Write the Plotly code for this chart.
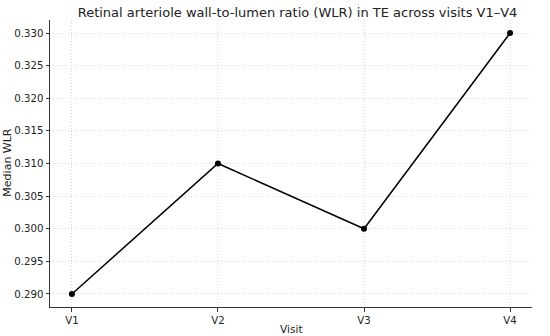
import plotly.graph_objects as go

visits = ["V1", "V2", "V3", "V4"]
median_wlr = [0.290, 0.310, 0.300, 0.330]
y_ticks = [0.290, 0.295, 0.300, 0.305, 0.310, 0.315, 0.320, 0.325, 0.330]

x_idx = list(range(len(visits)))

fig = go.Figure()
fig.add_trace(go.Scatter(
    x=x_idx, y=median_wlr, mode="lines+markers",
    line=dict(color="black", width=1.5),
    marker=dict(color="black", size=6),
    showlegend=False,
))

fig.update_layout(
    width=550, height=336,
    margin=dict(l=50, r=18, t=20, b=29),
    paper_bgcolor="white", plot_bgcolor="white",
    font=dict(family="DejaVu Sans", size=10.2, color="#222"),
    title=dict(text="Retinal arteriole wall-to-lumen ratio (WLR) in TE across visits V1–V4",
               x=0.541, xanchor="center", y=0.964, yanchor="middle",
               font=dict(size=13.0, color="#222")),
)
grid_style = dict(showgrid=True, gridcolor="#d9d9d9", griddash="1px,2px", gridwidth=1)
fig.update_xaxes(
    range=[-0.15, 3.15], tickmode="array", tickvals=x_idx, ticktext=visits,
    showline=True, linecolor="#333", linewidth=1,
    ticks="outside", ticklen=3.5, tickcolor="#333",
    zeroline=False, automargin=False, **grid_style,
)
fig.update_yaxes(
    range=[0.288, 0.332], tickmode="array", tickvals=y_ticks,
    ticktext=[f"{v:.3f}" for v in y_ticks],
    showline=True, linecolor="#333", linewidth=1,
    ticks="outside", ticklen=3.5, tickcolor="#333",
    zeroline=False, automargin=False, **grid_style,
)
fig.add_annotation(text="Visit", xref="paper", yref="paper", x=0.5, y=0,
                   yshift=-21.5, yanchor="middle", showarrow=False,
                   font=dict(size=10.6, color="#222"))
fig.add_annotation(text="Median WLR", xref="paper", yref="paper", x=0, y=0.503,
                   xshift=-42, xanchor="center", yanchor="middle", textangle=-90,
                   showarrow=False, font=dict(size=11, color="#222"))

fig.write_html("out.html", config={"displayModeBar": False},
               post_script="document.body.style.margin='0';")
